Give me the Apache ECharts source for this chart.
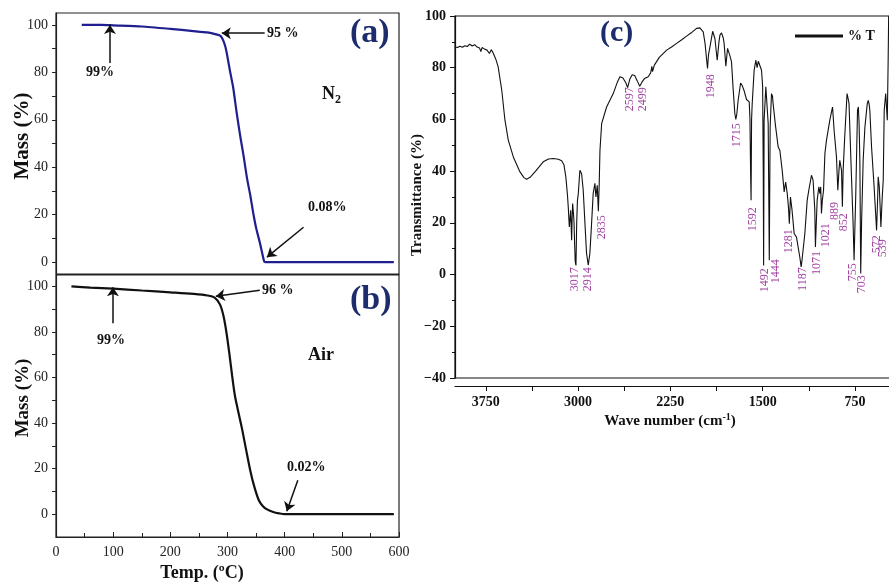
<!DOCTYPE html>
<html><head><meta charset="utf-8">
<script src="https://cdn.jsdelivr.net/npm/echarts@6/dist/echarts.min.js"></script>
<style>html,body{margin:0;padding:0;background:#fff}#c{width:889px;height:583px}</style>
</head><body><div id="c"></div>
<script>
// ---- Panel (a): TGA under N2 ----
const tempA = [45,80,100,150,200,240,265,280,288,294,298,304,310,316,322,328,334,340,345,350,357,364,366,450,520,591];
const massA = [100,100,99.8,99.3,98.3,97.4,96.8,96.0,95.3,92.5,89,81,73.5,63,53.5,45,35.5,28,20.7,14.5,7.8,0.4,0,0,0,0];
// ---- Panel (b): TGA under air ----
const tempB = [27,60,100,150,200,240,265,278,287,293,298,303,308,313,318,325,332,340,347,355,362,370,380,390,400,500,591];
const massB = [100,99.5,99,98.2,97.4,96.7,96.0,95.0,92,87,80,71,61,52,46,38,29,19,12,6,3.5,2,1,0.4,0,0,0];
// ---- Panel (c): FTIR spectrum ----
const waveNum = [4000,3980,3960,3940,3920,3900,3880,3860,3840,3820,3800,3790,3780,3760,3740,3720,3705,3690,3670,3650,3620,3594,3567,3526,3472,3440,3418,3390,3350,3283,3240,3201,3160,3133,3115,3100,3093,3085,3079,3074,3071,3065,3060,3055,3052,3048,3044,3038,3033,3028,3023,3017,3011,3005,2998,2990,2985,2978,2971,2958,2944,2931,2917,2904,2890,2877,2863,2855,2844,2835,2828,2822,2808,2768,2714,2680,2660,2635,2610,2597,2580,2560,2540,2520,2499,2480,2460,2430,2410,2400,2395,2380,2340,2280,2240,2199,2160,2118,2080,2037,2010,1995,1983,1968,1955,1948,1940,1923,1906,1888,1869,1855,1847,1834,1820,1813,1799,1785,1775,1765,1753,1740,1726,1718,1710,1699,1679,1665,1652,1631,1615,1609,1603,1598,1594,1590,1585,1569,1555,1545,1535,1522,1509,1500,1495,1492,1488,1474,1465,1455,1450,1446,1439,1428,1420,1415,1396,1374,1360,1341,1325,1313,1300,1290,1283,1274,1261,1244,1225,1198,1187,1179,1157,1138,1125,1115,1103,1090,1076,1071,1057,1043,1035,1028,1022,1015,1005,994,981,954,940,932,925,919,900,889,880,873,859,852,846,833,814,805,798,778,765,757,743,729,722,716,710,703,696,683,669,650,642,635,629,615,594,574,565,561,552,545,539,528,520,512,500,490,487,480,476];
const transmit = [88,87.8,88.3,87.9,88.5,88.2,89.1,88.4,88.9,88,87.6,86.2,87.8,87.2,86.8,85.5,87,85.7,83.5,80.5,71.3,59.7,52,45.5,39.7,37.5,36.9,37.6,39.7,43.6,44.7,44.9,44.6,44,42.5,38,34.5,30,25.6,21,18.4,22,24.9,17,13.3,22,27.5,24,20.4,12,5,3.5,20,28.7,31.3,37,40.3,41,39,32.6,19.8,8.2,3.6,8.2,19.8,31.4,35.3,30,34.5,24.5,35,48,58.5,64.8,70,74.5,76.5,76,74,72.3,75.5,77.3,77,75,72.8,74.5,75.8,76.5,78,80.5,78.5,81,84,86.8,88,89.4,90.7,92.2,93.5,95.2,95.4,95,93.9,89.4,83,79.7,85,89.4,94.1,91.3,82.9,90,92.6,93.5,91.5,89.4,80.6,87.5,86.8,84.5,82.3,72,62.3,60,62,67.4,74.1,73,71.3,67.7,67,66.8,60,40,28.7,59.7,66,79,82.9,80,82.5,82.3,79,72.6,40,3.5,59.7,72.6,73,58.5,30,5.5,57,70,69,66.1,57.8,49.4,48,40.3,32,35.8,31.3,26,19.7,30,24.9,15.9,14.5,6.8,3,6,15.9,28.7,32.6,33,38.4,36.5,24.9,10.7,28.7,33.9,31.3,33.9,23.6,28.7,32.6,46.8,52,59.7,63,64.8,60,55.6,45.5,32.6,40,44.2,40.3,26.2,40,53.2,70,68,66.1,37.8,20,5.5,31.3,63.6,64.8,58,44.2,0.4,20,44.2,57,66,67.4,66,63.6,49.4,33.9,17.1,30,37.8,33.9,26,18.4,30,36.5,63.6,70,62,59.7,82.9,100];
// peak labels: text, label anchor wave number, label anchor transmittance (top end of label)
const peakNames = ['3017','2914','2835','2597','2499','1948','1715','1592','1492','1444','1281','1187','1071','1021','889','852','755','703','572','539'];
const peakLabelX = [3025,2917,2808,2578,2470,1923,1712,1582,1482,1392,1284,1175,1057,986,913,838,764,696,574,521];
const peakLabelY = [2.8,2.8,22.9,72.4,72.4,77.5,58.5,26.0,2.4,5.9,17.5,2.8,9.1,19.8,28.1,23.7,4.4,-0.3,15.2,13.7];
// tick values
const massLabels = [0,20,40,60,80,100];
const massTicks = [0,10,20,30,40,50,60,70,80,90,100];
const waveLabels = [3750,3000,2250,1500,750];
const waveTicks = [3750,3375,3000,2625,2250,1875,1500,1125,750];
// annotation arrows [tail, head] in data units
const arrowsA = [[[365,96.5],[290,96.5]], [[94.4,83.9],[94.4,99.9]], [[433,14.7],[369,2.1]]];
const arrowsB = [[[356.5,98.3],[279.6,95.7]], [[99.6,83.8],[99.6,99.6]], [[423,14.9],[403.7,1.3]]];

const FF = 'Liberation Serif';
const NAVY = '#1c2c6c';
const chart = echarts.init(document.getElementById('c'));
const zip = (a,b) => a.map((v,i)=>[v,b[i]]);
const arrowML = arr => ({
  silent:true, symbol:['none','arrow'], symbolSize:9, animation:false,
  lineStyle:{color:'#111', width:1.5, type:'solid'}, label:{show:false},
  data: arr.map(p=>[{coord:p[0]},{coord:p[1]}])
});
const tgaY = (gi,min) => ({
  gridIndex:gi, type:'value', min:min, max:105,
  axisLine:{show:true, onZero:false, lineStyle:{color:'#222', width:1.2}},
  axisTick:{show:true, length:4, customValues:massTicks, lineStyle:{color:'#222'}},
  axisLabel:{customValues:massLabels, fontFamily:FF, fontSize:14, color:'#222', margin:8},
  splitLine:{show:false}
});
const txt = (x,y,t,size,opts) => Object.assign({type:'text', x:x, y:y, silent:true,
  style:Object.assign({text:t, fontFamily:FF, fontWeight:'bold', fontSize:size, fill:'#111', align:'left', verticalAlign:'middle'}, (opts&&opts.style)||{})}, opts&&opts.rotation!==undefined?{rotation:opts.rotation}:{});

chart.setOption({
  animation:false,
  backgroundColor:'#fff',
  grid:[
    {left:56, top:13, width:343, height:261, show:true, borderColor:'#222', borderWidth:1.2, backgroundColor:'transparent', outerBoundsMode:'none'},
    {left:56, top:275, width:343, height:262, show:true, borderColor:'#222', borderWidth:1.2, backgroundColor:'transparent', outerBoundsMode:'none'},
    {left:455, top:16, width:443, height:362, show:true, borderColor:'#111', borderWidth:1.2, backgroundColor:'transparent', outerBoundsMode:'none'}
  ],
  legend:{data:[{name:'% T', icon:'rect'}], left:790, top:24, itemWidth:48, itemHeight:3, itemGap:5,
    textStyle:{fontFamily:FF, fontWeight:'bold', fontSize:14, color:'#111'}},
  xAxis:[
    {gridIndex:0, type:'value', min:0, max:600, axisLabel:{show:false}, axisTick:{show:false}, splitLine:{show:false},
      axisLine:{show:true, onZero:false, lineStyle:{color:'#222'}}},
    {gridIndex:1, type:'value', min:0, max:600, interval:100,
      axisLine:{show:true, onZero:false, lineStyle:{color:'#222', width:1.2}},
      axisTick:{show:true, inside:true, length:5, lineStyle:{color:'#222'}},
      minorTick:{show:true, splitNumber:2, length:4, lineStyle:{color:'#222'}},
      axisLabel:{fontFamily:FF, fontSize:14, color:'#222', margin:8}, splitLine:{show:false}},
    {gridIndex:2, type:'value', min:400, max:4000, inverse:true, offset:8,
      axisLine:{show:true, onZero:false, lineStyle:{color:'#111', width:1.2}},
      axisTick:{show:true, length:5, customValues:waveTicks, lineStyle:{color:'#111'}},
      axisLabel:{customValues:waveLabels, formatter:v=>String(v), fontFamily:FF, fontWeight:'bold', fontSize:14, color:'#111', margin:9},
      splitLine:{show:false}}
  ],
  yAxis:[
    tgaY(0,-5),
    tgaY(1,-10),
    {gridIndex:2, type:'value', min:-40, max:100, interval:20,
      axisLine:{show:true, onZero:false, lineStyle:{color:'#111', width:1.2}},
      axisTick:{show:true, length:5, lineStyle:{color:'#111'}},
      minorTick:{show:true, splitNumber:2, length:3, lineStyle:{color:'#111'}},
      axisLabel:{formatter:v=>String(v).replace('-','\u2212'), fontFamily:FF, fontWeight:'bold', fontSize:14, color:'#111', margin:9},
      splitLine:{show:false}}
  ],
  series:[
    {name:'N2', type:'line', xAxisIndex:0, yAxisIndex:0, data:zip(tempA,massA), showSymbol:false, smooth:0.2,
      lineStyle:{color:'#1f1f8f', width:2.2}, itemStyle:{color:'#1f1f8f'}, markLine:arrowML(arrowsA)},
    {name:'Air', type:'line', xAxisIndex:1, yAxisIndex:1, data:zip(tempB,massB), showSymbol:false, smooth:0.3,
      lineStyle:{color:'#111', width:2.2}, itemStyle:{color:'#111'}, markLine:arrowML(arrowsB)},
    {name:'% T', type:'line', xAxisIndex:2, yAxisIndex:2, data:zip(waveNum,transmit), showSymbol:false,
      lineStyle:{color:'#111', width:1.1}, itemStyle:{color:'#111'}},
    {name:'peaks', type:'scatter', xAxisIndex:2, yAxisIndex:2, symbolSize:0, silent:true,
      data:peakNames.map((n,i)=>({name:n, value:[peakLabelX[i],peakLabelY[i]]})),
      label:{show:true, position:[0,0], formatter:'{b}', rotate:90, align:'right', verticalAlign:'middle',
        fontFamily:FF, fontSize:12, color:'#8a0f8a'}}
  ],
  graphic:[
    txt(350,33,'(a)',34,{style:{fill:NAVY}}),
    txt(350,300,'(b)',34,{style:{fill:NAVY}}),
    txt(600,33,'(c)',30,{style:{fill:NAVY}}),
    txt(267,33,'95 %',14), txt(86,72,'99%',14), txt(322,94,'N',18), txt(335,100,'2',12), txt(308,207,'0.08%',14),
    txt(262,290,'96 %',14), txt(97,340,'99%',14), txt(308,355,'Air',18), txt(287,467,'0.02%',14),
    txt(23,136,'Mass (%)',21,{rotation:Math.PI/2, style:{align:'center'}}),
    txt(23,398,'Mass (%)',19,{rotation:Math.PI/2, style:{align:'center'}}),
    txt(202,573,'Temp. (ºC)',18,{style:{align:'center'}}),
    txt(417,195,'Transmittance (%)',15,{rotation:Math.PI/2, style:{align:'center'}}),
    {type:'text', x:670, y:421, silent:true, style:{text:'{a|Wave number (cm}{b|-1}{a|)}', align:'center', verticalAlign:'middle',
      rich:{a:{fontFamily:FF, fontWeight:'bold', fontSize:15, fill:'#111'}, b:{fontFamily:FF, fontWeight:'bold', fontSize:10, fill:'#111', verticalAlign:'top', padding:[0,0,8,0]}}}}
  ]
});
</script></body></html>
